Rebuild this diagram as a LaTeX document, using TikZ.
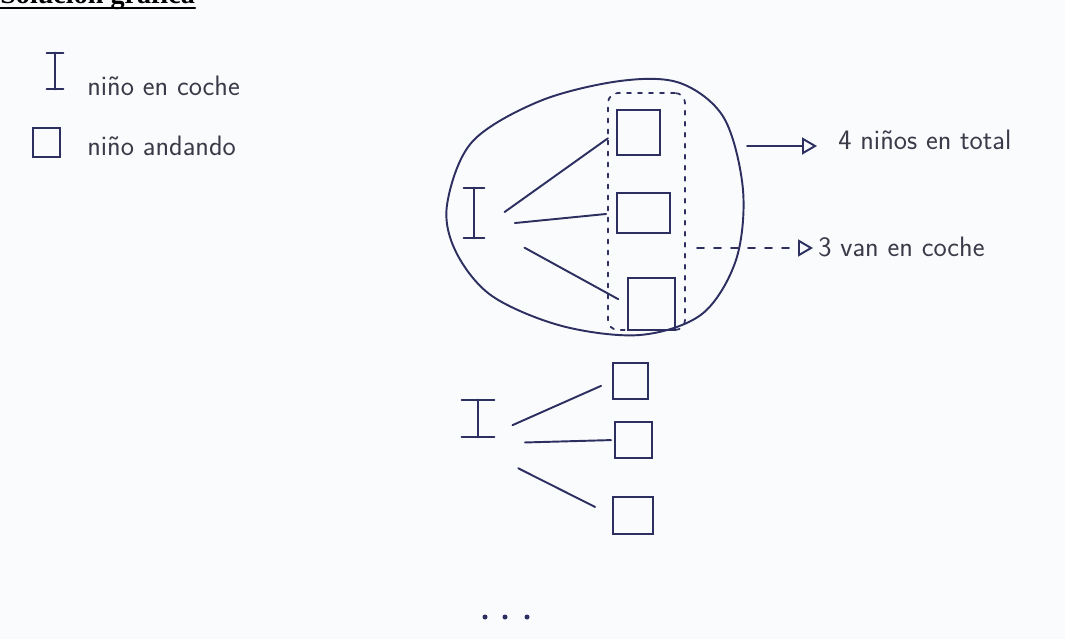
\documentclass[tikz,border=0pt]{standalone}
\usepackage{fontspec}
\newfontfamily\titlefont{Liberation Serif}
\usepackage{xcolor}
\usetikzlibrary{arrows.meta,positioning}

\definecolor{ink}{RGB}{44,47,96}
\definecolor{pencil}{RGB}{58,58,72}
\definecolor{paper}{RGB}{250,251,253}

\tikzset{
  kid/.style={draw=ink, line width=1.1pt, inner sep=0pt},
  link/.style={draw=ink, line width=1.1pt},
  group/.style={draw=ink, line width=1pt, dash pattern=on 0.8mm off 1.4mm, rounded corners=2mm, inner sep=0pt},
  note/.style={text=pencil, font=\sffamily\fontsize{16}{18}\selectfont, inner sep=1mm},
  pointer/.style={draw=ink, line width=1.1pt, -{Triangle[open, length=3mm, width=3.4mm]}},
}

\begin{document}
\begin{tikzpicture}[x=0.2mm, y=-0.2mm, line cap=round]
    		\useasboundingbox[fill=paper] (0,0) rectangle (1065,639);
    		
    		% Title, cut at the page edge
    		\node[anchor=base west, inner sep=0pt, font=\titlefont\bfseries\fontsize{16}{18}\selectfont] (title) at (0,4) {Solución gráfica};
    		\draw[line width=0.4mm] ([yshift=-0.9mm]title.base west) -- ([yshift=-0.9mm]title.base east);
    		
    		% Legend
    		\node[inner sep=0pt, minimum width=3.2mm, minimum height=7.2mm] (lcar) at (55,71) {};
    		\node[note, anchor=base west] (lcartxt) at (82,96) {niño en coche};
    		\node[kid, minimum width=5.4mm, minimum height=5.8mm] (lsq) at (46.5,142.5) {};
    		\node[note, anchor=base west] (lsqtxt) at (82,156) {niño andando};
    		
    		% Blob round the first case
    		\draw[ink, line width=1.1pt] plot[smooth cycle, tension=0.55] coordinates {
    			(447,205) (472,142) (540,101) (620,81) (680,83) (724,118) (743,190)
    			(736,260) (702,314) (640,335) (562,326) (492,296) (456,252)};
    		
    		% First case: one child in the car, three walking
    		\node[inner sep=0pt, minimum width=4mm, minimum height=10mm] (car1) at (474,213) {};
    		\coordinate (hub1) at (485,226);
    		\node[kid, minimum width=8.6mm, minimum height=9mm] (sq1) at (638.5,132.5) {};
    		\node[kid, minimum width=10.6mm, minimum height=8mm] (sq2) at (643.5,213) {};
    		\node[kid, minimum width=9.4mm, minimum height=10.4mm] (sq3) at (651.5,304) {};
    		\node[group, minimum width=15.4mm, minimum height=47.4mm] (grp) at (646.5,211.5) {};
    		
    		\draw[link, shorten <=4.8mm, shorten >=2mm] (hub1) -- (sq1.west);
    		\draw[link, shorten <=6mm, shorten >=2mm] (hub1) -- (sq2.west);
    		\draw[link, shorten <=9mm, shorten >=2mm] (hub1) -- (sq3.west);
    		
    		% Second case
    		\node[inner sep=0pt, minimum width=6.4mm, minimum height=7.4mm] (car2) at (478,418.5) {};
    		\coordinate (hub2) at (470,444);
    		\node[kid, minimum width=7mm, minimum height=7.2mm] (sq4) at (630.5,381) {};
    		\node[kid, minimum width=7.4mm, minimum height=7.2mm] (sq5) at (633.5,440) {};
    		\node[kid, minimum width=8mm, minimum height=7.4mm] (sq6) at (633,515.5) {};
    		
    		\draw[link, shorten <=9.3mm, shorten >=2.4mm] (hub2) -- (sq4.west);
    		\draw[link, shorten <=11mm, shorten >=0.6mm] (hub2) -- (sq5.west);
    		\draw[link, shorten <=10.8mm, shorten >=3.8mm] (hub2) -- (sq6.west);
    		
    		% I-beams for the children in the car
    		\foreach \c in {lcar,car1,car2}
    			\draw[link] (\c.north west) -- (\c.north east) (\c.north) -- (\c.south) (\c.south west) -- (\c.south east);
    		
    		% Notes on the right
    		\coordinate (sol) at (747,146);
    		\node[note, anchor=base west] (tot) at (833,150) {4 niños en total};
    		\draw[pointer, shorten >=3.2mm] (sol) -- (sol -| tot.west);
    		
    		\coordinate (vanS) at (697,248);
    		\node[note, anchor=base west] (van) at (813,257) {3 van en coche};
    		\draw[pointer, dash pattern=on 1.4mm off 2mm] (vanS) -- (vanS -| van.west);
    		
    		% Dots at the bottom
    		\foreach \x in {485,505,527}
    			\fill[ink] (\x,617) circle[radius=0.5mm];
    	\end{tikzpicture}
\end{document}
